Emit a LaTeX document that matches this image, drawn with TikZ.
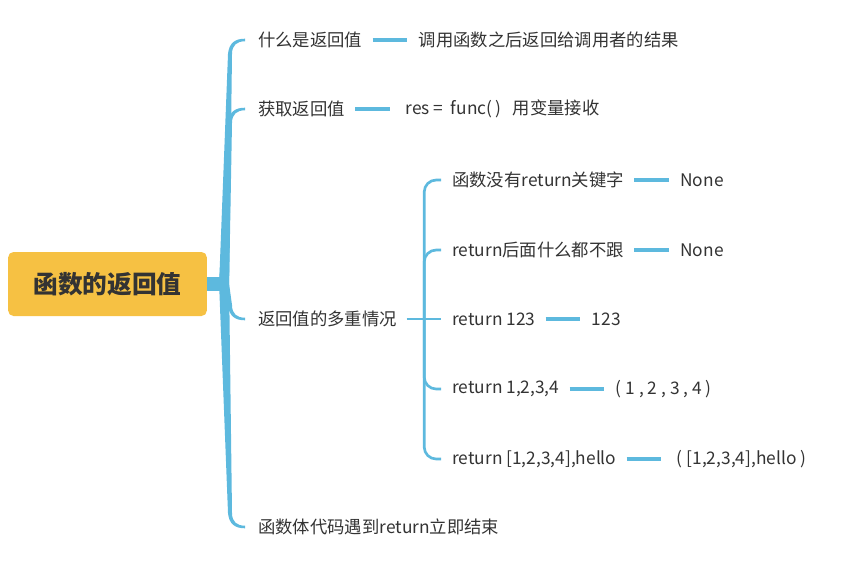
\documentclass[tikz,border=0pt]{standalone}
\usepackage{fontspec}
\setmainfont{Noto Sans CJK SC}
\usepackage{tikz}
\usetikzlibrary{positioning,calc}
\definecolor{mapblue}{RGB}{93,185,222}
\definecolor{mapgold}{RGB}{246,193,67}
\definecolor{maptext}{RGB}{51,51,51}

% tapered branch from the hub to a main topic (#2 = 1 up, -1 down)
\newcommand{\branchto}[2]{%
  \fill[mapblue] ($(hub)+(-3,0)$) -- ($(#1.west)+(-30,{#2*14})$)
    .. controls ($(#1.west)+(-29,{#2*3})$) and ($(#1.west)+(-23,{#2*-1.3})$) .. ($(#1.west)+(-13,{#2*-1.3})$)
    -- ($(#1.west)+(-13,{#2*1.3})$)
    .. controls ($(#1.west)+(-21,{#2*1.3})$) and ($(#1.west)+(-26,{#2*5})$) .. ($(#1.west)+(-26,{#2*14})$)
    -- ($(hub)+(7,0)$) -- cycle;}

\begin{document}
\begin{tikzpicture}[
    x=0.75pt,y=-0.75pt,
    node distance=42pt,
    topic/.style={inner sep=0pt,anchor=west,text=maptext,font=\fontsize{13}{15}\selectfont},
    rootbox/.style={draw=none,fill=mapgold,rounded corners=4pt,minimum width=149pt,minimum height=48pt,
      text=maptext,font=\fontsize{18.5}{22}\selectfont\bfseries},
    leafline/.style={mapblue,line width=2.5pt,shorten <=7.5pt,shorten >=8.5pt},
    sub/.style={mapblue,line width=2pt,rounded corners=9pt}
  ]
  \useasboundingbox (0,0) rectangle (856,571);

  \node[rootbox] (root) at (107.5,284) {函数的返回值};
  \coordinate (hub) at ($(root.east)+(15,0)$);

  % main topics
  \node[topic] (m1) at (258,40) {什么是返回值};
  \node[topic] (m2) at (258,109) {获取返回值};
  \node[topic] (m3) at (258,319) {返回值的多重情况};
  \node[topic] (m4) at (258,527) {函数体代码遇到return立即结束};

  \node[topic,right=of m1] (l1) {调用函数之后返回给调用者的结果};
  \node[topic,right=of m2,xshift=3pt] (l2) {res = \ func(\,)\ \ \ 用变量接收};

  % cases
  \node[topic] (s1) at (452,180) {函数没有return关键字};
  \node[topic] (s2) at (452,250) {return后面什么都不跟};
  \node[topic] (s3) at (452,319) {return 123};
  \node[topic] (s4) at (452,389) {return 1,2,3,4};
  \node[topic] (s5) at (452,459) {return [1,2,3,4],hello};
  \coordinate (hub2) at ($(m3.east)+(27,0)$);

  \node[topic,right=of s1] (r1) {None};
  \node[topic,right=of s2] (r2) {None};
  \node[topic,right=of s3] (r3) {123};
  \node[topic,right=of s4] (r4) {( 1 , 2 , 3 , 4 )};
  \node[topic,right=of s5,xshift=3pt] (r5) {( [1,2,3,4],hello )};

  % branches
  \fill[mapblue] ($(root.east)+(0,-7)$) rectangle ($(hub)+(4,7)$);
  \branchto{m1}{1}
  \branchto{m2}{1}
  \branchto{m3}{-1}
  \branchto{m4}{-1}

  \foreach \s in {s1,s2,s4,s5}
    \draw[sub] (hub2) |- ($(\s.west)+(-11,0)$);
  \draw[mapblue,line width=2pt,shorten <=7pt,shorten >=8pt] (m3.east) -- (s3.west);

  \draw[leafline] (m1.east) -- (l1.west);
  \draw[leafline] (m2.east) -- ($(l2.west)+(-4,0)$);
  \draw[leafline] (s1.east) -- (r1.west);
  \draw[leafline] (s2.east) -- (r2.west);
  \draw[leafline] (s3.east) -- (r3.west);
  \draw[leafline] (s4.east) -- (r4.west);
  \draw[leafline] (s5.east) -- ($(r5.west)+(-4,0)$);
\end{tikzpicture}
\end{document}
